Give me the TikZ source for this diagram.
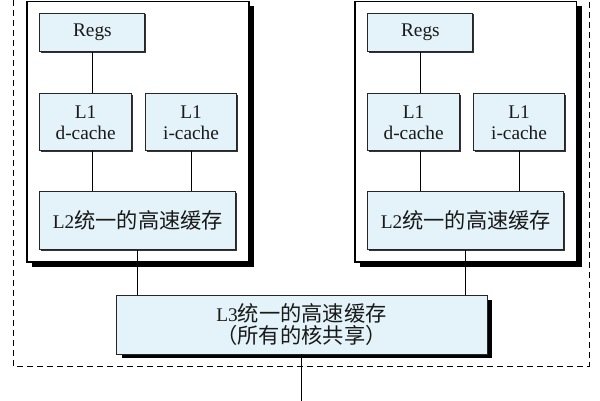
\documentclass[tikz,border=0pt]{standalone}
\usepackage{fontspec}
\setmainfont{Liberation Serif}
\newfontfamily\cjk[Scale=1.1]{Noto Sans CJK SC}
\newcommand{\zh}[1]{{\cjk #1}}
\usetikzlibrary{positioning, shadows}
\definecolor{cachefill}{HTML}{E3F3F9}
\tikzset{%
  % Specifications for style of nodes:
        box/.style = {rectangle, draw=black!85, fill=cachefill,
                           line width=0.5pt, align=center, inner sep=0pt,
                           text=black!90, font=\fontsize{11}{12}\selectfont},
        core/.style = {rectangle, draw=black, fill=white, line width=0.6pt,
                           minimum width=44.4mm, minimum height=52.2mm,
                           drop shadow={shadow xshift=1mm, shadow yshift=-1mm,
                                        fill=black, opacity=1}},
        cache/.style = {box, drop shadow={shadow xshift=0.3mm,
                           shadow yshift=-0.3mm, fill=black!80, opacity=1}},
        regs/.style = {cache, minimum width=21mm, minimum height=7.8mm},
        lone/.style = {cache, minimum width=18.3mm, minimum height=11.4mm},
        ltwo/.style = {cache, minimum width=39.2mm, minimum height=11.6mm},
        lthree/.style = {box, minimum width=74.2mm, minimum height=11.8mm,
                           font=\fontsize{11}{12.5}\selectfont,
                           drop shadow={shadow xshift=1.1mm, shadow yshift=-0.9mm,
                                        fill=black, opacity=1}},
        link/.style = {draw, line width=0.5pt}
}

\begin{document}
\begin{tikzpicture}[x=0.02cm, y=-0.02cm]
  \clip (0,0) rectangle (600,400);
  % chip boundary
  \draw[line width=0.5pt, dash pattern=on 1.2mm off 0.8mm] (13,-10) rectangle (589,366);

  % Specification of nodes (position, etc.)
    \node (core1)        [core] at (138,131.5) {};
    \node (core2)        [core, right=21mm of core1] {};
    \node (regs1)        [regs, below right=2.4mm and 2.6mm of core1.north west] {Regs};
    \node (dcache1)      [lone, below=8.2mm of regs1.south west, anchor=north west] {L1\\d-cache};
    \node (icache1)      [lone, right=2.6mm of dcache1] {L1\\i-cache};
    \node (ltwo1)        [ltwo, below=8mm of dcache1.south west, anchor=north west] {L2\zh{统一的高速缓存}};
    \node (regs2)        [regs, below right=2.4mm and 2.6mm of core2.north west] {Regs};
    \node (dcache2)      [lone, below=8.2mm of regs2.south west, anchor=north west] {L1\\d-cache};
    \node (icache2)      [lone, right=2.6mm of dcache2] {L1\\i-cache};
    \node (ltwo2)        [ltwo, below=8mm of dcache2.south west, anchor=north west] {L2\zh{统一的高速缓存}};
    \node (lthree)       [lthree] at (301.5,324.5) {L3\zh{统一的高速缓存}\\\zh{（所有的核共享）}};
    \coordinate (mem) at (301.5,405);

  % Specification of lines between nodes specified above
  \draw[link]     (regs1.south) -- (regs1.south |- dcache1.north);
  \draw[link]     (regs1.south |- dcache1.south) -- (regs1.south |- ltwo1.north);
  \draw[link]     (icache1.south) -- (icache1.south |- ltwo1.north);
  \draw[link]     (regs2.south) -- (regs2.south |- dcache2.north);
  \draw[link]     (regs2.south |- dcache2.south) -- (regs2.south |- ltwo2.north);
  \draw[link]     (icache2.south) -- (icache2.south |- ltwo2.north);
  \draw[link]     (ltwo1.south) -- (ltwo1.south |- lthree.north);
  \draw[link]     (ltwo2.south) -- (ltwo2.south |- lthree.north);
  \draw[link]     (lthree.south) -- (mem);
\end{tikzpicture}
\end{document}
